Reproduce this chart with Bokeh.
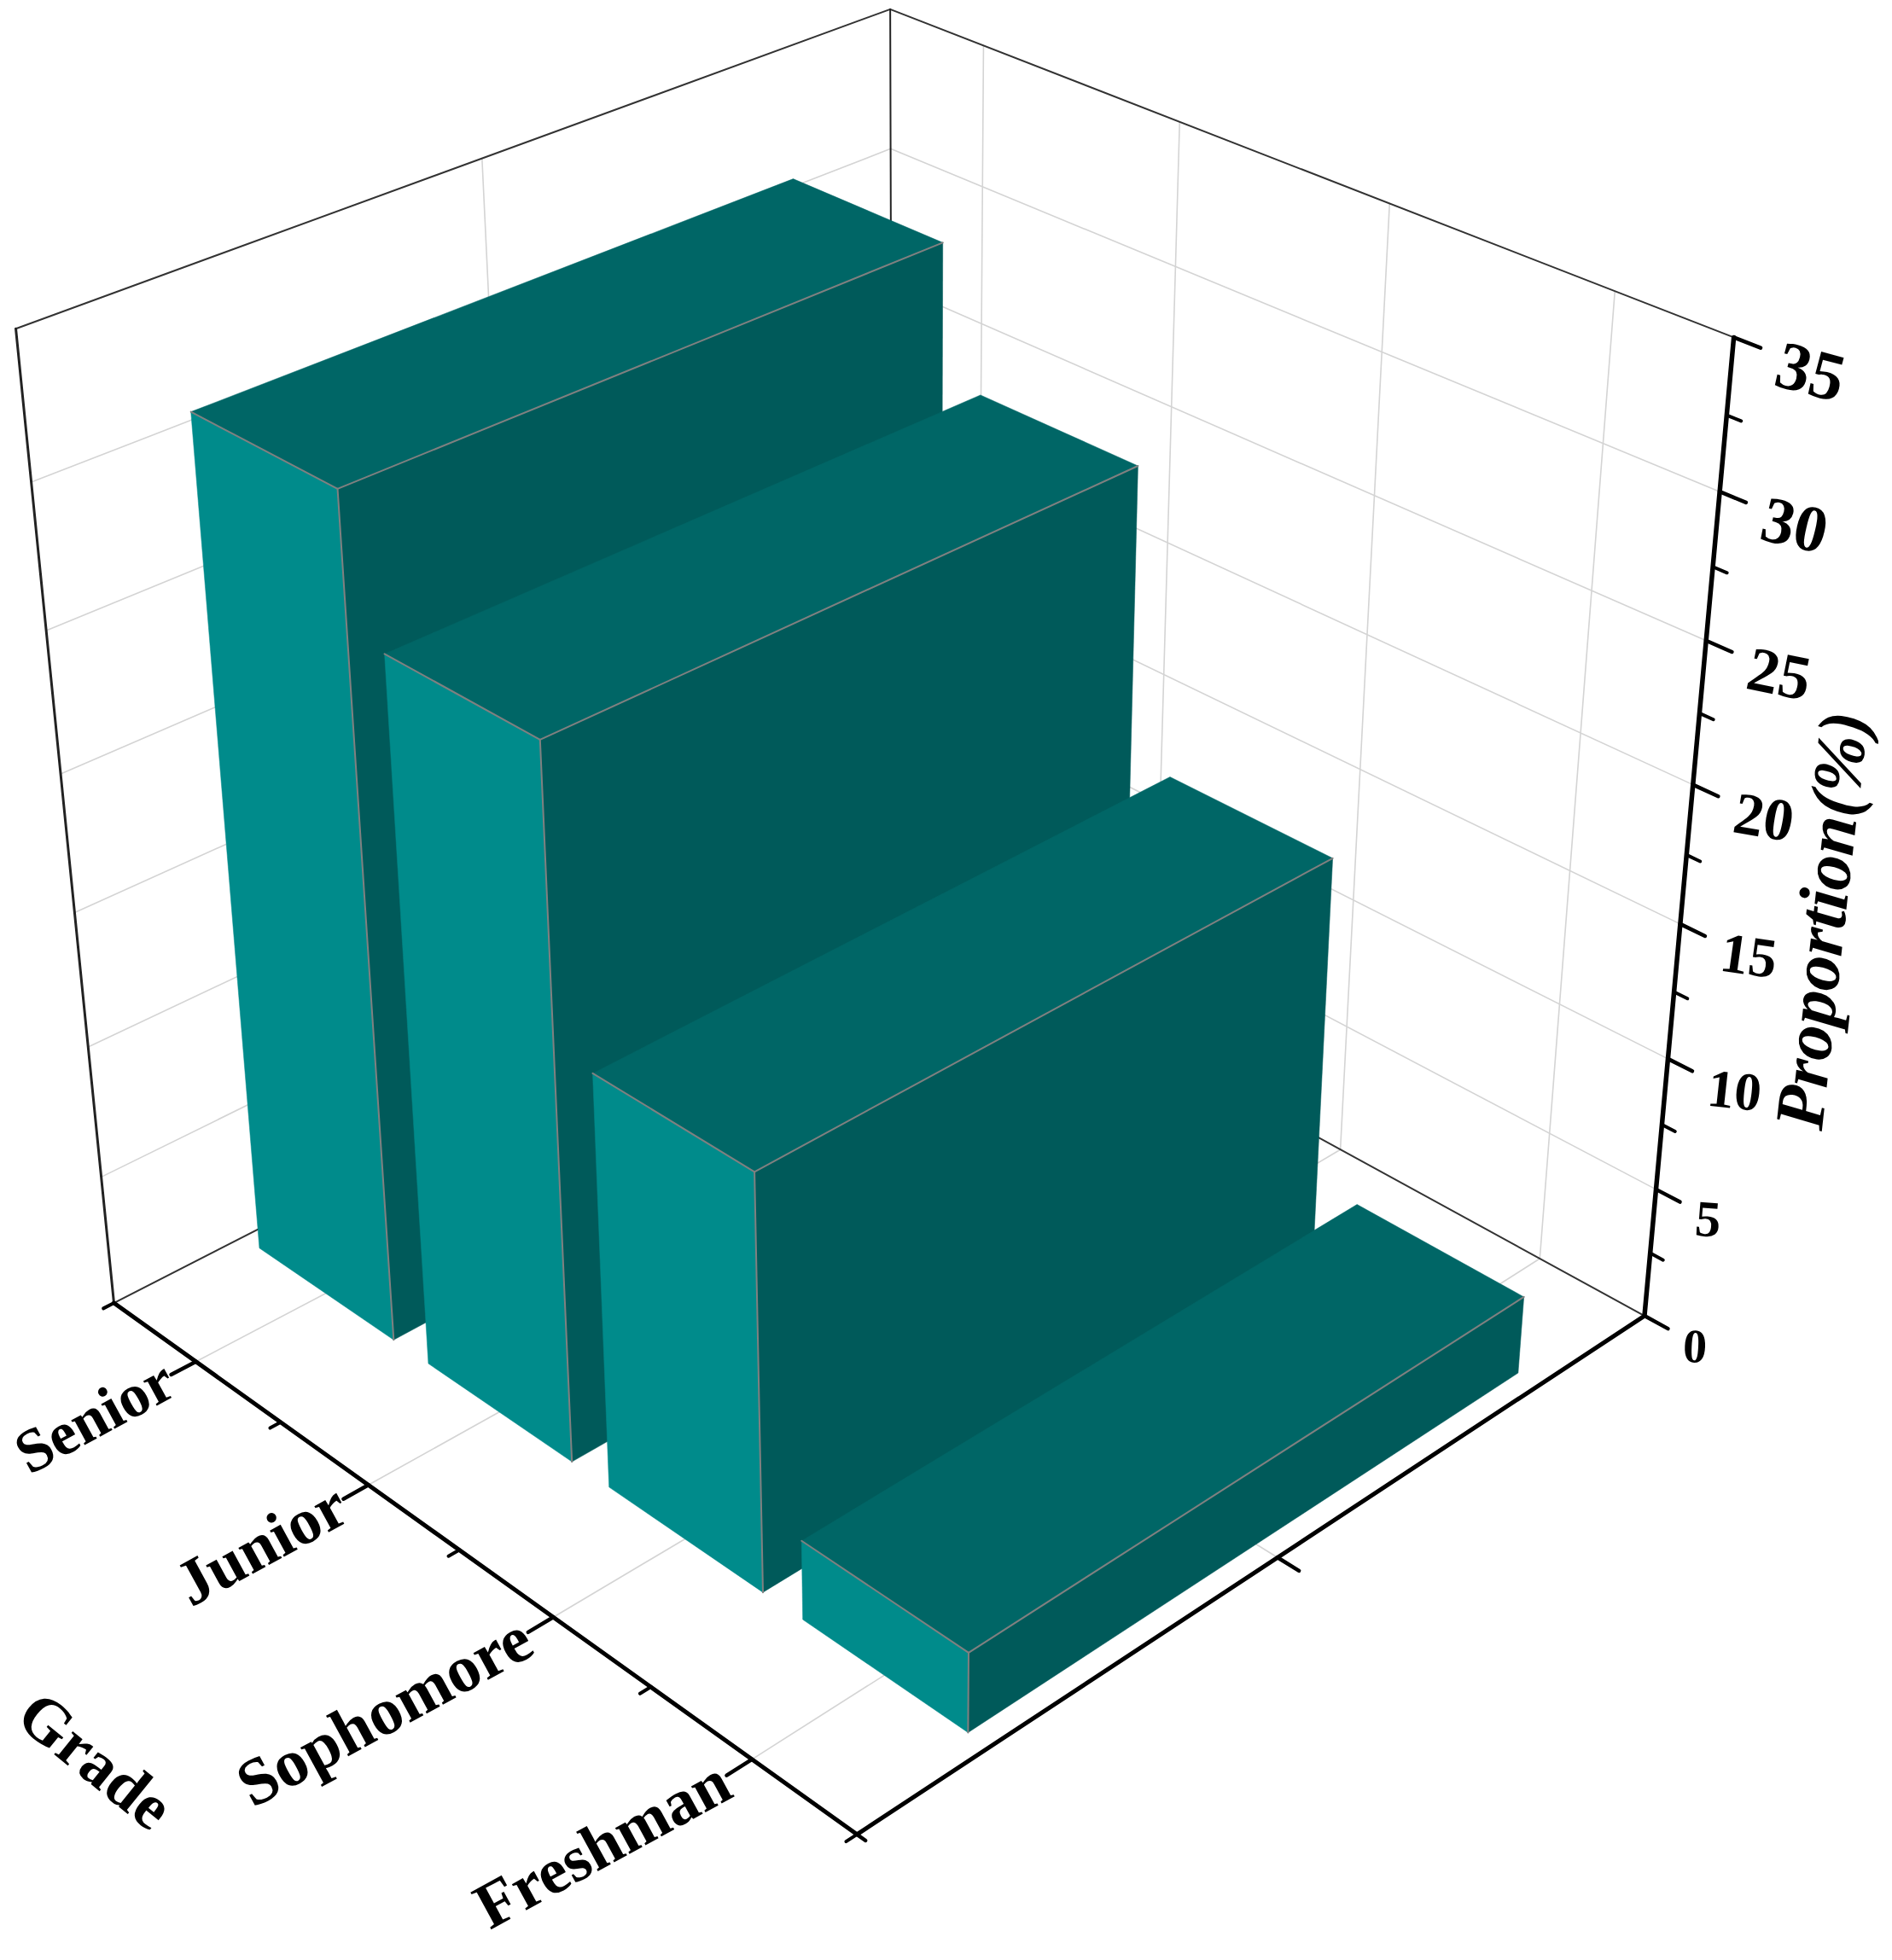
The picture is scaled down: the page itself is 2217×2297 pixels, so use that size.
import numpy as np
from bokeh.plotting import figure, ColumnDataSource
from bokeh.models import Range1d
from bokeh.core.properties import value
from bokeh.embed import file_html
from bokeh.resources import INLINE

categories = ["Senior", "Junior", "Sophomore", "Freshman"]
proportions = [30.8, 26.0, 15.4, 3.0]
cat_pos = [1, 2, 3, 4]
z_ticks = [0, 5, 10, 15, 20, 25, 30, 35]
z_minor = [2.5, 7.5, 12.5, 17.5, 22.5, 27.5, 32.5]
x_minor = [1.5, 2.5, 3.5]
U0, U1 = 0.5, 4.5
ZMAX = 35.0
BAR_W = 0.8
V0, V1 = 0.15, 0.85

# camera calibration: (grade position, depth 0-1, proportion) -> picture pixel
calib = [
    (0.5, 0, 0, 133, 1526), (4.5, 0, 0, 1003, 2150), (4.5, 1, 0, 1927, 1541),
    (0.5, 0, 35, 17, 382), (0.5, 1, 35, 1043, 10), (4.5, 1, 35, 2033, 390),
    (0.5, 1, 30, 1043, 173), (4.5, 1, 5, 1940, 1396), (4.5, 1, 10, 1954, 1240),
    (4.5, 1, 15, 1970, 1084), (4.5, 1, 20, 1983, 920), (4.5, 1, 25, 1998, 750),
    (4.5, 1, 30, 2015, 576), (1, 0, 0, 228, 1596), (2, 0, 0, 431, 1742),
    (3, 0, 0, 649, 1893), (4, 0, 0, 881, 2060), (1, 1, 35, 1152, 50),
    (2, 1, 35, 1381, 143), (3, 1, 35, 1626, 239), (4, 1, 35, 1890, 344),
    (4, 1, 0, 1803, 1472), (0.5, 0.5, 35, 567, 190),
]


def norm(u, v, w):
    return (u - U0) / (U1 - U0), v, w / ZMAX


A, b = [], []
for u, v, w, x, y in calib:
    a, c, d = norm(u, v, w)
    x, y = x / 1000, y / 1000
    A.append([a, c, d, 1, 0, 0, 0, 0, -x * a, -x * c, -x * d])
    b.append(x)
    A.append([0, 0, 0, 0, a, c, d, 1, -y * a, -y * c, -y * d])
    b.append(y)
m = np.linalg.lstsq(np.array(A), np.array(b), rcond=None)[0]
M = np.append(m, 1).reshape(3, 4)


def project(u, v, w):
    a, c, d = norm(u, v, w)
    q = M @ np.array([a, c, d, 1.0])
    return q[0] / q[2] * 1000, q[1] / q[2] * 1000


def seg(p, pts, color, width):
    xs, ys = zip(*[project(*t) for t in pts])
    p.line(list(xs), list(ys), line_color=color, line_width=width, line_cap="round")


p = figure(width=2201, height=2281, output_backend="svg", toolbar_location=None,
           x_range=Range1d(0, 2201), y_range=Range1d(2281, 0), min_border=0,
           background_fill_color="white", border_fill_color="white")
p.axis.visible = False
p.grid.visible = False
p.outline_line_color = None

GRID = "#d4d4d4"
# wall and floor grid
for z in z_ticks[1:-1]:
    seg(p, [(U0, 0, z), (U0, 1, z), (U1, 1, z)], GRID, 1.6)
for c in cat_pos:
    seg(p, [(c, 0, 0), (c, 1, 0), (c, 1, ZMAX)], GRID, 1.6)
seg(p, [(U0, 0.5, ZMAX), (U0, 0.5, 0), (U1, 0.5, 0)], GRID, 1.6)

# frame
seg(p, [(U0, 0, ZMAX), (U0, 1, ZMAX), (U1, 1, ZMAX)], "#333333", 2)
seg(p, [(U0, 1, ZMAX), (U0, 1, 0)], "#222222", 2)
seg(p, [(U0, 0, 0), (U0, 1, 0), (U1, 1, 0)], "#333333", 2)
seg(p, [(U0, 0, 0), (U0, 0, ZMAX)], "#222222", 3)

# bars, back to front
LIGHT, TOP, DARK, EDGE = "#008b8b", "#006666", "#005a5a", "#808080"
for c, h in zip(cat_pos, proportions):
    u0, u1 = c - BAR_W / 2, c + BAR_W / 2
    faces = [
        ([(u0, V0, 0), (u1, V0, 0), (u1, V0, h), (u0, V0, h)], LIGHT),
        ([(u1, V0, 0), (u1, V1, 0), (u1, V1, h), (u1, V0, h)], DARK),
        ([(u0, V0, h), (u1, V0, h), (u1, V1, h), (u0, V1, h)], TOP),
    ]
    for pts, col in faces:
        xs, ys = zip(*[project(*t) for t in pts])
        p.patch(list(xs), list(ys), fill_color=col, line_color=col, line_width=0.5)
    seg(p, [(u0, V0, h), (u1, V0, h), (u1, V1, h)], EDGE, 2)
    seg(p, [(u1, V0, h), (u1, V0, 0)], EDGE, 2)

# main axes and ticks
seg(p, [(U0, 0, 0), (U1, 0, 0), (U1, 1, 0)], "#000000", 5)
seg(p, [(U1, 1, 0), (U1, 1, ZMAX)], "#000000", 5.5)
for z in z_ticks:
    seg(p, [(U1, 1, z), (U1 + 0.11, 1, z)], "#000000", 4.5)
for z in z_minor:
    seg(p, [(U1, 1, z), (U1 + 0.06, 1, z)], "#000000", 4)
for u in cat_pos:
    seg(p, [(u, 0, 0), (u, -0.028, 0)], "#000000", 4.5)
for u in x_minor + [U0, U1]:
    seg(p, [(u, 0, 0), (u, -0.012, 0)], "#000000", 4)
seg(p, [(U1, 0.5, 0), (U1 + 0.1, 0.5, 0)], "#000000", 4.5)
seg(p, [(U1, 0, 0), (U1 + 0.04, 0, 0)], "#000000", 4.5)

SERIF = value("Liberation Serif")
# category labels
pts = [project(c, -0.03, 0) for c in cat_pos]
cat_src = ColumnDataSource(dict(
    x=[q[0] for q in pts], y=[q[1] for q in pts], t=categories,
    s=["72px", "76px", "78px", "76px"],
))
p.text("x", "y", text="t", source=cat_src, text_font=SERIF,
       text_font_style="bold", text_font_size="s", text_align="right",
       text_baseline="middle", angle=0.5, text_color="#000000")

# proportion tick labels
pts = [project(U1 + 0.18, 1, z) for z in z_ticks]
src = ColumnDataSource(dict(
    x=[q[0] for q in pts], y=[q[1] for q in pts], t=[str(z) for z in z_ticks],
    s=[f"{56 + z * 0.7:.0f}px" for z in z_ticks],
    a=[-0.05 - z * 0.006 for z in z_ticks],
))
p.text("x", "y", text="t", source=src, text_font=SERIF, text_font_style="bold",
       text_font_size="s", text_align="left", text_baseline="middle",
       angle="a", y_offset=10, text_color="#000000")

# axis titles
p.text([112], [2062], text=["Grade"], text_font=SERIF, text_font_style="bold",
       text_font_size="76px", text_align="center", text_baseline="middle",
       angle=-0.68, text_color="#000000")
p.text([2134], [1078], text=["Proportion(%)"], text_font=SERIF, text_font_style="bold italic",
       text_font_size="82px", text_align="center", text_baseline="middle",
       angle=1.46, text_color="#000000")

open("out.html", "w").write(file_html(p, INLINE))
